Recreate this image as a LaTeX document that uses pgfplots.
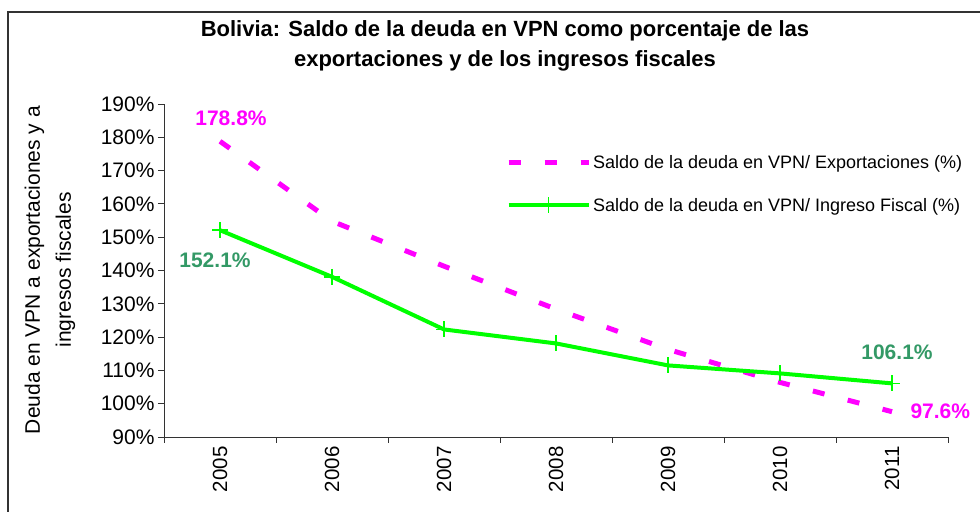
\documentclass[border=0pt]{standalone}
\usepackage{pgfplots}
\pgfplotsset{compat=1.18}
\usepackage{fontspec}
\setmainfont{Liberation Sans}
\definecolor{mag}{RGB}{255,0,255}
\definecolor{grn}{RGB}{0,255,0}
\definecolor{sgreen}{RGB}{51,153,102}
\begin{document}
\begin{tikzpicture}
\path[use as bounding box] (0bp,0bp) rectangle (980bp,512bp);
\draw[line width=2bp, black!80] (8bp,-20bp) -- (8bp,500bp) -- (1000bp,500bp);
\begin{axis}[
  at={(164bp,75bp)}, anchor=south west,
  scale only axis, width=784bp, height=333bp,
  xmin=-0.5, xmax=6.5, ymin=90, ymax=190,
  axis lines*=left,
  axis line style={black!80, line width=0.8bp},
  tick style={black!80, line width=0.8bp},
  tick align=outside, major tick length=6bp,
  xtick={-0.5,0.5,1.5,2.5,3.5,4.5,5.5,6.5},
  xticklabels={2005,2006,2007,2008,2009,2010,2011},
  x tick label as interval,
  xticklabel style={rotate=90, anchor=east, font=\fontsize{20.5bp}{24bp}\selectfont},
  ytick={90,100,...,190},
  yticklabel={\pgfmathprintnumber{\tick}\%},
  yticklabel style={font=\fontsize{21bp}{24bp}\selectfont},
  /pgf/number format/assume math mode=true,
  clip=false,
  legend cell align=left,
  legend style={draw=none, fill=none, at={(0.436,0.852)}, anchor=north west,
    font=\fontsize{18bp}{21bp}\selectfont, row sep=24bp, inner sep=0pt},
  legend image code/.code={\draw[#1, mark=none] (0bp,0bp) -- (80bp,0bp); \draw[#1] plot coordinates {(40bp,0bp)};},
]
\addplot[mag, line width=5bp, dash pattern=on 12bp off 24bp] coordinates {(0,178.8)(1,154.8)(2,141.3)(3,128.4)(4,116.3)(5,106.4)(6,97.6)};
\addlegendentry{Saldo de la deuda en VPN/ Exportaciones (\%)}
\addplot[grn, line width=4bp, mark=+, mark size=8bp, mark options={solid, line width=1.5bp}] coordinates {(0,152.1)(1,138.1)(2,122.3)(3,118.1)(4,111.5)(5,109.1)(6,106.1)};
\addlegendentry{Saldo de la deuda en VPN/ Ingreso Fiscal (\%)}
\node[mag, font=\bfseries\fontsize{21bp}{25bp}\selectfont, xshift=11bp, yshift=23bp] at (axis cs:0,178.8) {178.8\%};
\node[sgreen, font=\bfseries\fontsize{21bp}{25bp}\selectfont, xshift=-5bp, yshift=-30bp] at (axis cs:0,152.1) {152.1\%};
\node[sgreen, font=\bfseries\fontsize{21bp}{25bp}\selectfont, xshift=5bp, yshift=31bp] at (axis cs:6,106.1) {106.1\%};
\node[mag, font=\bfseries\fontsize{21bp}{25bp}\selectfont, anchor=west, xshift=15bp] at (axis cs:6,97.6) {97.6\%};
\end{axis}
\node[align=center, font=\bfseries\fontsize{22bp}{30bp}\selectfont] at (505bp,466bp) {Bolivia: Saldo de la deuda en VPN como porcentaje de las\\exportaciones y de los ingresos fiscales};
\node[rotate=90, align=center, font=\fontsize{21bp}{31bp}\selectfont] at (50bp,242bp) {Deuda en VPN a exportaciones y a\\ingresos fiscales};
\end{tikzpicture}
\end{document}
